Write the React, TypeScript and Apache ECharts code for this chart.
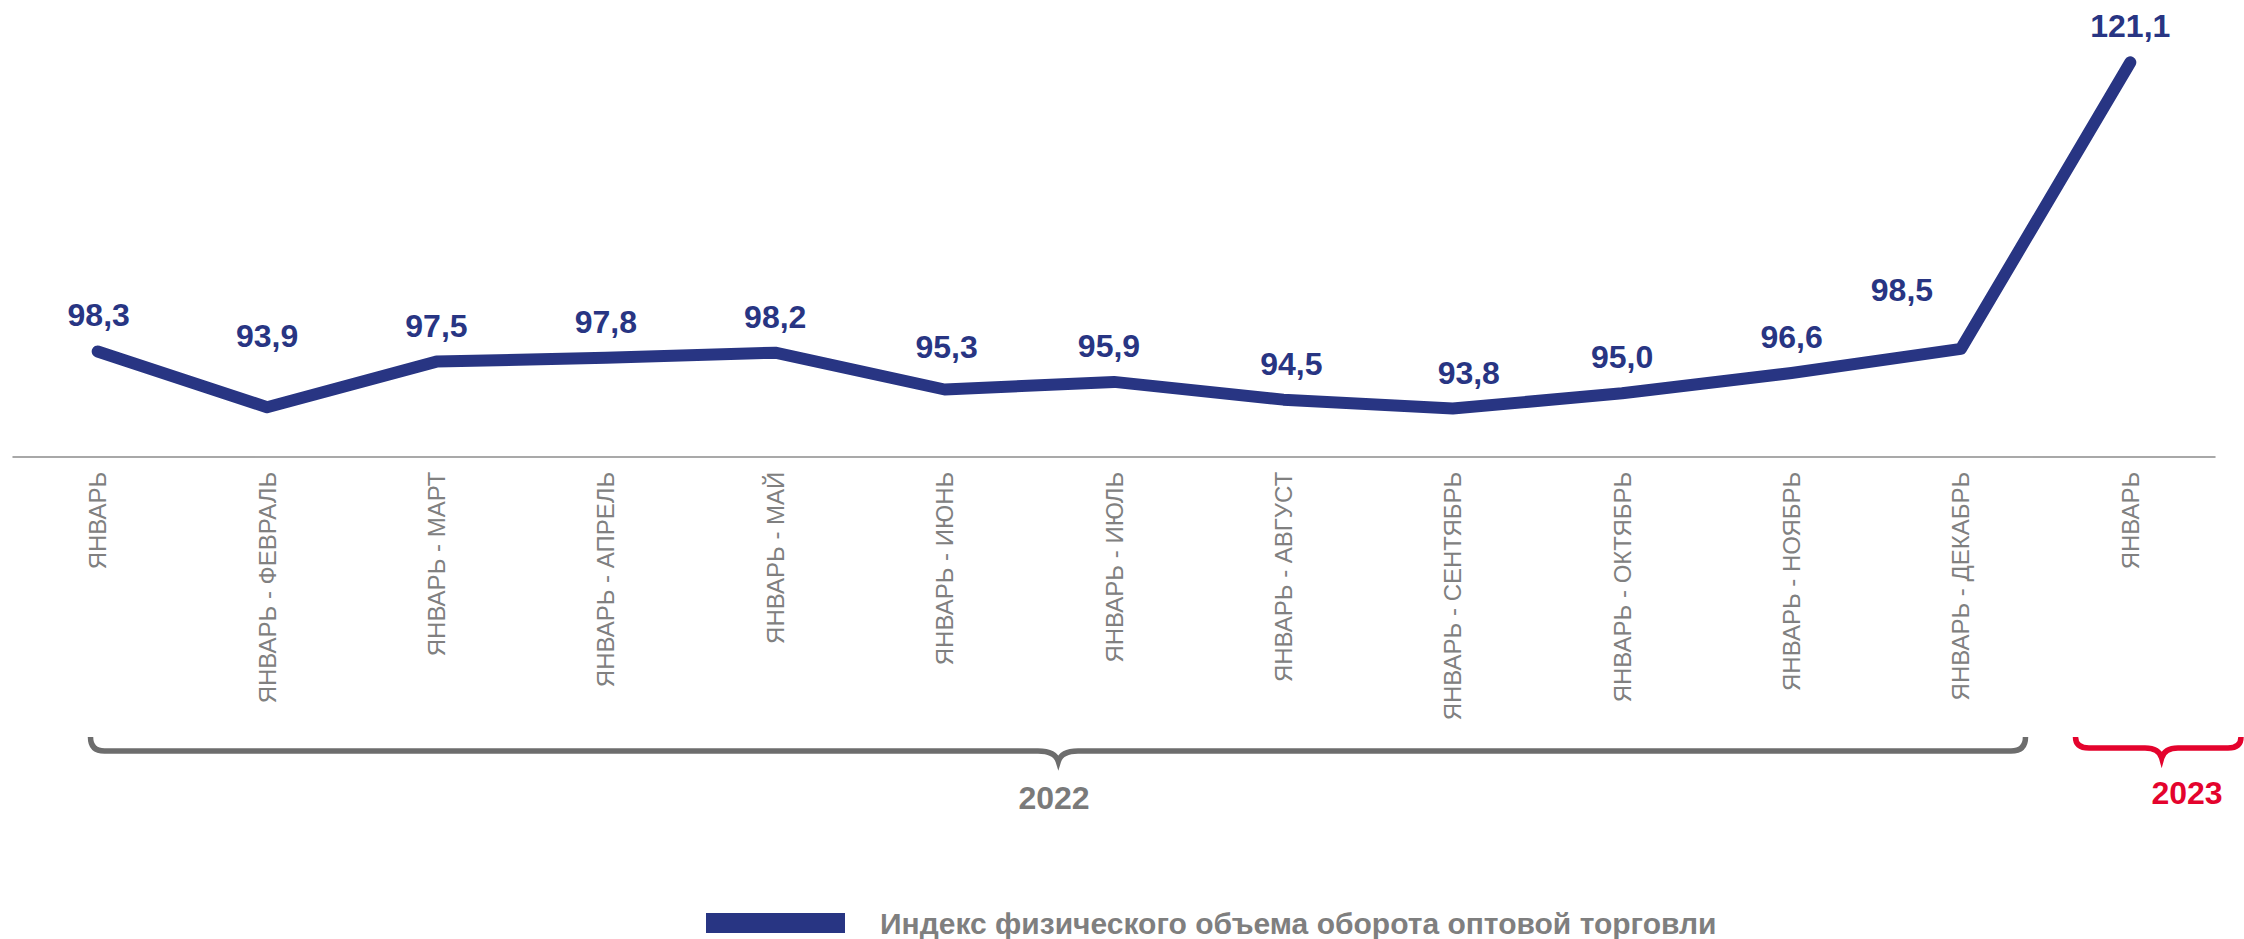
import React, { useEffect, useRef } from "react";
import * as echarts from "echarts";

const categories: string[] = [
  "ЯНВАРЬ",
  "ЯНВАРЬ - ФЕВРАЛЬ",
  "ЯНВАРЬ - МАРТ",
  "ЯНВАРЬ - АПРЕЛЬ",
  "ЯНВАРЬ - МАЙ",
  "ЯНВАРЬ - ИЮНЬ",
  "ЯНВАРЬ - ИЮЛЬ",
  "ЯНВАРЬ - АВГУСТ",
  "ЯНВАРЬ - СЕНТЯБРЬ",
  "ЯНВАРЬ - ОКТЯБРЬ",
  "ЯНВАРЬ - НОЯБРЬ",
  "ЯНВАРЬ - ДЕКАБРЬ",
  "ЯНВАРЬ",
];

const values: number[] = [98.3, 93.9, 97.5, 97.8, 98.2, 95.3, 95.9, 94.5, 93.8, 95.0, 96.6, 98.5, 121.1];

const seriesName = "Индекс физического объема оборота оптовой торговли";
const yearLabels: string[] = ["2022", "2023"];

// label nudges (style only)
const labelNudges: [number, number][] = [
  [1, 0], [0, -35], [0, 0], [0, 0], [0, 0], [2, -6], [-5, 0],
  [8, 0], [16, 0], [0, 0], [0, 0], [-59, -23], [0, 0],
];

const NAVY = "#283583";
const FONT = "'Liberation Sans', Arial, sans-serif";

echarts.graphic.registerShape(
  "brace2022",
  echarts.graphic.extendPath(
    "M 90.5 737 Q 90.5 751 104.5 751 L 1038 751 Q 1055 751 1058.3 761.5 Q 1061.5 751 1078 751 L 2011 751 Q 2025.5 751 2025.5 737",
    {}
  )
);
echarts.graphic.registerShape(
  "brace2023",
  echarts.graphic.extendPath(
    "M 2075.5 737 Q 2075.5 748 2089 748 L 2145 748 Q 2159 748 2161.7 758 Q 2164.5 748 2178 748 L 2228 748 Q 2241 748 2241 737",
    {}
  )
);

export default function App() {
  const ref = useRef<HTMLDivElement>(null);

  useEffect(() => {
    document.body.style.margin = "0";
    if (!ref.current) return;
    const chart = echarts.init(ref.current, undefined, { renderer: "svg" });

    const option = {
      animation: false,
      backgroundColor: "#ffffff",
      grid: { left: 13, top: 12.9, width: 2202, height: 443.8, containLabel: false },
      legend: {
        show: true,
        left: 701,
        top: 903,
        icon: "rect",
        itemWidth: 139,
        itemHeight: 20,
        data: [seriesName],
        textStyle: {
          fontSize: 30,
          fontWeight: "bold",
          color: "#7f7f7f",
          fontFamily: FONT,
          padding: [0, 0, 0, 30],
        },
      },
      xAxis: {
        type: "category",
        data: categories,
        boundaryGap: true,
        axisLine: { show: true, lineStyle: { color: "#8c8c8c", width: 1.5 } },
        axisTick: { show: false },
        axisLabel: {
          interval: 0,
          rotate: 90,
          margin: 15,
          fontSize: 24,
          color: "#808080",
          fontFamily: FONT,
        },
        splitLine: { show: false },
      },
      yAxis: {
        type: "value",
        min: 90,
        max: 125,
        show: false,
        splitLine: { show: false },
      },
      series: [
        {
          name: seriesName,
          type: "line",
          data: values.map((v, i) => ({
            value: v,
            label: { offset: labelNudges[i] },
          })),
          symbol: "circle",
          symbolSize: 2,
          showSymbol: true,
          itemStyle: { color: NAVY },
          lineStyle: { color: NAVY, width: 12, cap: "round", join: "round" },
          label: {
            show: true,
            position: "top",
            distance: 19,
            fontSize: 32,
            fontWeight: "bold",
            color: NAVY,
            fontFamily: FONT,
            formatter: (p: any) => Number(p.value).toFixed(1).replace(".", ","),
          },
          emphasis: { disabled: true },
        },
      ],
      graphic: [
        {
          type: "brace2022",
          x: 0,
          y: 0,
          silent: true,
          style: { fill: "none", stroke: "#6d6d6d", lineWidth: 5.5 },
        },
        {
          type: "brace2023",
          x: 0,
          y: 0,
          silent: true,
          style: { fill: "none", stroke: "#e4032d", lineWidth: 5.5 },
        },
        {
          type: "text",
          x: 1054,
          y: 798,
          silent: true,
          style: {
            text: yearLabels[0],
            fontSize: 32,
            fontWeight: "bold",
            fill: "#7a7a7a",
            fontFamily: FONT,
            textAlign: "center",
            textVerticalAlign: "middle",
          },
        },
        {
          type: "text",
          x: 2187,
          y: 793,
          silent: true,
          style: {
            text: yearLabels[1],
            fontSize: 32,
            fontWeight: "bold",
            fill: "#e4032d",
            fontFamily: FONT,
            textAlign: "center",
            textVerticalAlign: "middle",
          },
        },
      ],
    };

    chart.setOption(option as any);
    return () => chart.dispose();
  }, []);

  return <div ref={ref} style={{ width: 2244, height: 939 }} />;
}
